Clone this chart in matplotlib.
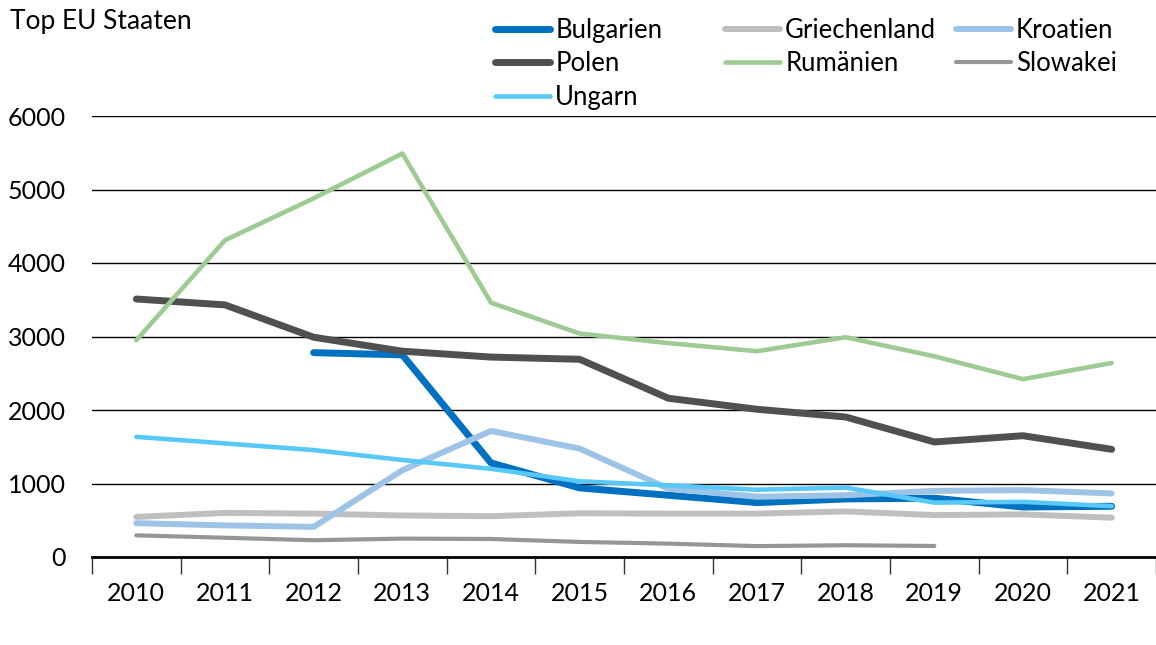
import matplotlib
matplotlib.use('Agg')
import matplotlib.pyplot as plt

plt.rcParams['font.family'] = ['Lato', 'DejaVu Sans']

years = list(range(2010, 2022))

bulgarien = [None, None, 2780, 2750, 1280, 940, 840, 740, 790, 800, 680, 690]
griechenland = [545, 600, 590, 565, 555, 595, 590, 590, 620, 570, 580, 535]
kroatien = [460, 430, 410, 1180, 1715, 1475, 930, 820, 840, 900, 910, 865]
polen = [3510, 3430, 2990, 2800, 2720, 2690, 2160, 2010, 1905, 1565, 1650, 1465]
rumaenien = [2950, 4310, 4880, 5490, 3460, 3040, 2910, 2800, 2990, 2730, 2420, 2640]
slowakei = [295, 262, 228, 250, 245, 205, 182, 148, 160, 150, None, None]
ungarn = [1635, 1545, 1455, 1320, 1200, 1030, 975, 915, 945, 740, 750, 692]

series = [
    ('Bulgarien', bulgarien, '#0070C0', 5.0),
    ('Griechenland', griechenland, '#BFBFBF', 4.3),
    ('Kroatien', kroatien, '#9DC3E6', 4.3),
    ('Polen', polen, '#505050', 5.0),
    ('Rumänien', rumaenien, '#9DCB93', 3.3),
    ('Slowakei', slowakei, '#969696', 3.0),
    ('Ungarn', ungarn, '#57C8F8', 3.3),
]

fig = plt.figure(figsize=(11.56, 6.45), dpi=100)
ax = fig.add_axes([92 / 1156, 88 / 645, 1 - 92 / 1156, 441 / 645])

handles = {}
for name, vals, color, lw in series:
    xs = [y for y, v in zip(years, vals) if v is not None]
    ys = [v for v in vals if v is not None]
    line, = ax.plot(xs, ys, color=color, lw=lw, solid_capstyle='round',
                    solid_joinstyle='round', label=name)
    handles[name] = line

ax.set_xlim(2009.5, 2021.5)
ax.set_ylim(0, 6000)
ax.set_xticks(years)
ax.set_xticks([y - 0.5 for y in years] + [2021.5], minor=True)
ax.tick_params(axis='x', which='major', length=0, pad=18, labelsize=18)
ax.tick_params(axis='x', which='minor', length=12, width=1, color='#333333')
ax.set_yticks(range(0, 7000, 1000))
ax.tick_params(axis='y', length=0, pad=19, labelsize=18)
ax.grid(axis='y', color='black', lw=1)
ax.set_axisbelow(True)
for s in ['top', 'right', 'left']:
    ax.spines[s].set_visible(False)
ax.spines['bottom'].set_linewidth(2)
ax.spines['bottom'].set_zorder(3)

fig.text(10 / 1156, 1 - 21 / 645, 'Top EU Staaten', fontsize=19, va='center', ha='left')

# legend laid out in three fixed-width columns
columns = [['Bulgarien', 'Polen', 'Ungarn'], ['Griechenland', 'Rumänien'], ['Kroatien', 'Slowakei']]
col_x = [495, 725, 956]
for names, x in zip(columns, col_x):
    leg = fig.legend([handles[n] for n in names], names, loc='upper left',
                     bbox_to_anchor=(x / 1156, 1 - 18 / 645), frameon=False,
                     fontsize=18.5, borderpad=0, borderaxespad=0, handlelength=2.14,
                     handletextpad=0.2, labelspacing=0.33)

fig.savefig('out.png', dpi=100)
